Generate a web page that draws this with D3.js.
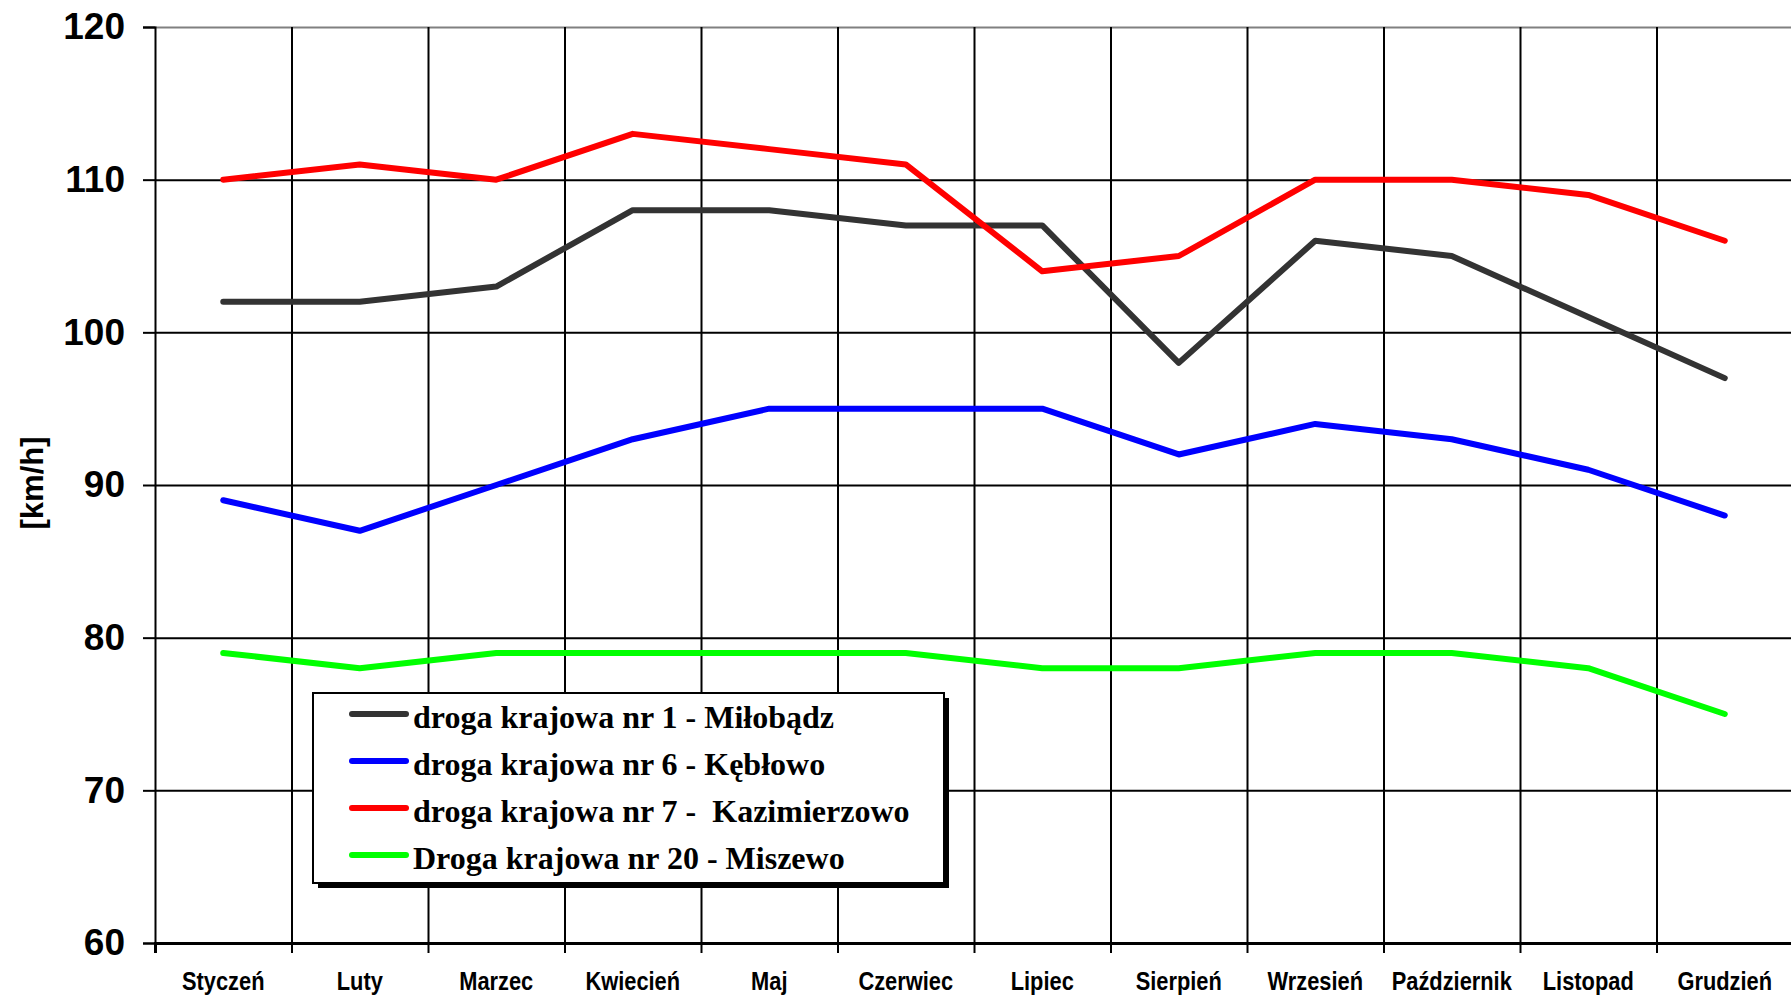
<!DOCTYPE html>
<html>
<head>
<meta charset="utf-8">
<script src="https://cdn.jsdelivr.net/npm/d3@7/dist/d3.min.js"></script>
<style>
body { margin: 0; background: #fff; }
svg { display: block; }
</style>
</head>
<body>
<div id="chart"></div>
<script>
"use strict";

/***** data *****/
const months = ["Styczeń", "Luty", "Marzec", "Kwiecień", "Maj", "Czerwiec", "Lipiec",
                "Sierpień", "Wrzesień", "Październik", "Listopad", "Grudzień"];
const dk1 = [102, 102, 103, 108, 108, 107, 107, 98, 106, 105, 101, 97];
const dk6 = [89, 87, 90, 93, 95, 95, 95, 92, 94, 93, 91, 88];
const dk7 = [110, 111, 110, 113, 112, 111, 104, 105, 110, 110, 109, 106];
const dk20 = [79, 78, 79, 79, 79, 79, 78, 78, 79, 79, 78, 75];
const seriesNames = ["droga krajowa nr 1 - Miłobądz", "droga krajowa nr 6 - Kębłowo",
                     "droga krajowa nr 7 -  Kazimierzowo", "Droga krajowa nr 20 - Miszewo"];
const seriesColors = ["#333333", "#0000ff", "#ff0000", "#00ff00"];
const yTicks = [60, 70, 80, 90, 100, 110, 120];
const yTitle = "[km/h]";

const series = [dk1, dk6, dk7, dk20].map((values, i) => ({
    name: seriesNames[i], color: seriesColors[i], values
}));

/***** layout *****/
const W = 1791, H = 997,
    plotL = 155, plotR = 1793, plotT = 27, plotB = 943;

const svg = d3.select("#chart").append("svg")
    .attr("width", W).attr("height", H);

const x = d3.scaleLinear().domain([0, months.length]).range([plotL, plotR]);
const y = d3.scaleLinear().domain([60, 120]).range([plotB, plotT]);

// horizontal grid
const yGrid = svg.append("g")
    .attr("transform", `translate(${plotL},0)`)
    .call(d3.axisLeft(y).tickValues(yTicks).tickSize(-(plotR - plotL)).tickFormat(""));
yGrid.select(".domain").remove();
yGrid.selectAll(".tick line")
    .attr("stroke", d => d == 120 ? "#808080" : "#000")
    .attr("stroke-width", 2);

// vertical grid
const xGrid = svg.append("g")
    .attr("transform", `translate(0,${plotB})`)
    .call(d3.axisBottom(x).tickValues(d3.range(1, months.length)).tickSize(-(plotB - plotT)).tickFormat(""));
xGrid.select(".domain").remove();
xGrid.selectAll(".tick line").attr("stroke", "#000").attr("stroke-width", 2);

// y axis
const yAxis = svg.append("g")
    .attr("transform", `translate(${plotL},0)`)
    .call(d3.axisLeft(y).tickValues(yTicks).tickSize(12).tickPadding(18));
yAxis.select(".domain").attr("stroke", "#000").attr("stroke-width", 2);
yAxis.selectAll(".tick line").attr("stroke", "#000").attr("stroke-width", 2);
yAxis.selectAll(".tick text")
    .attr("font-family", "'Liberation Sans', Arial, sans-serif")
    .attr("font-weight", "bold")
    .attr("font-size", 37)
    .attr("fill", "#000");

// x axis
const xAxis = svg.append("g")
    .attr("transform", `translate(0,${plotB})`)
    .call(d3.axisBottom(x).tickValues(d3.range(0, months.length + 1)).tickSize(10).tickFormat(""));
xAxis.select(".domain").attr("stroke", "#000").attr("stroke-width", 3);
xAxis.selectAll(".tick line").attr("stroke", "#000").attr("stroke-width", 2);

// month labels, squeezed to look like Arial Narrow
svg.append("g").selectAll("text")
    .data(months)
    .enter()
    .append("text")
    .text(d => d)
    .attr("transform", (d, i) => `translate(${x(i + 0.5)},990) scale(0.84,1)`)
    .attr("text-anchor", "middle")
    .attr("font-family", "'Liberation Sans', Arial, sans-serif")
    .attr("font-weight", "bold")
    .attr("font-size", 26)
    .attr("fill", "#000");

svg.append("text")
    .text(yTitle)
    .attr("transform", "translate(32,483) rotate(-90)")
    .attr("text-anchor", "middle")
    .attr("dominant-baseline", "central")
    .attr("font-family", "'Liberation Sans', Arial, sans-serif")
    .attr("font-weight", "bold")
    .attr("font-size", 31);

/***** lines *****/
const line = d3.line()
    .x((d, i) => x(i + 0.5))
    .y(d => y(d));

svg.append("g").selectAll("path")
    .data(series)
    .enter()
    .append("path")
    .attr("d", d => line(d.values))
    .attr("fill", "none")
    .attr("stroke", d => d.color)
    .attr("stroke-width", 6)
    .attr("stroke-linejoin", "round")
    .attr("stroke-linecap", "round");

/***** legend *****/
const lg = svg.append("g").attr("transform", "translate(313,693)");
const lgW = 631, lgH = 190;

lg.append("rect")
    .attr("x", 5).attr("y", 5)
    .attr("width", lgW).attr("height", lgH)
    .attr("fill", "#000");
lg.append("rect")
    .attr("width", lgW).attr("height", lgH)
    .attr("fill", "#fff")
    .attr("stroke", "#000")
    .attr("stroke-width", 2);

const rows = lg.selectAll("g.row")
    .data(series)
    .enter()
    .append("g")
    .attr("class", "row")
    .attr("transform", (d, i) => `translate(0,${21 + i * 47})`);

rows.append("line")
    .attr("x1", 39).attr("x2", 93)
    .attr("stroke", d => d.color)
    .attr("stroke-width", 6)
    .attr("stroke-linecap", "round");

rows.append("text")
    .text(d => d.name)
    .attr("x", 100)
    .attr("y", 14)
    .style("white-space", "pre")
    .attr("font-family", "'Liberation Serif', 'Times New Roman', serif")
    .attr("font-weight", "bold")
    .attr("font-size", 32)
    .attr("fill", "#000");
</script>
</body>
</html>
